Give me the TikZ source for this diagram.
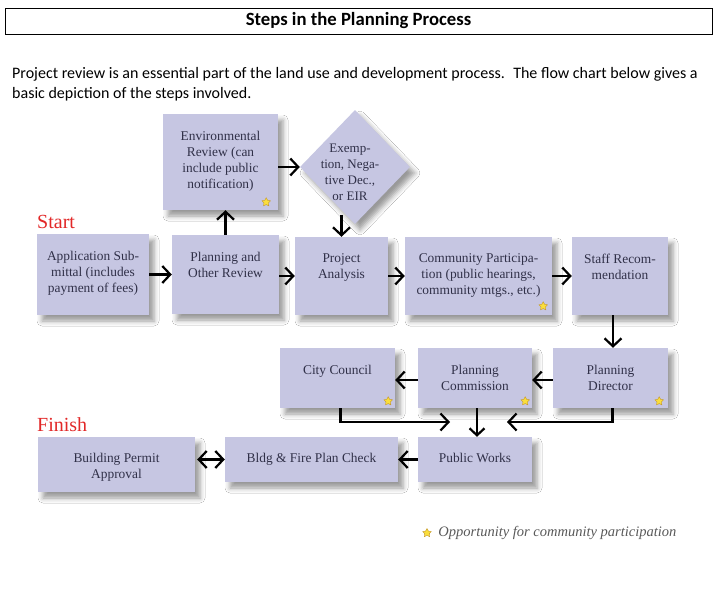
\documentclass[tikz,border=0pt]{standalone}
\usepackage{fontspec}
\setmainfont{Liberation Serif}
\newfontfamily\calibri{Carlito}
\usetikzlibrary{arrows.meta, positioning, calc, shapes.geometric, shadows.blur}
\definecolor{boxfill}{RGB}{198,198,226}
\definecolor{boxtext}{RGB}{48,48,72}
\definecolor{startred}{RGB}{226,40,40}
\definecolor{staryellow}{RGB}{250,222,60}
\definecolor{staredge}{RGB}{196,150,40}

\begin{document}
\begin{tikzpicture}[x=1pt, y=-1pt,
  every node/.style={inner sep=0pt},
  box/.style={fill=boxfill, blur shadow={shadow xshift=5pt, shadow yshift=-6pt, shadow blur radius=5pt, shadow opacity=40}},
  boxlabel/.style={anchor=north, align=center, text=boxtext, font=\fontsize{13.4}{16}\selectfont},
  arr/.style={line width=2.2pt, -{Straight Barb[length=8pt, width=17pt]}},
  thinarr/.style={line width=1.6pt, -{Straight Barb[length=7pt, width=15pt, line width=2.2pt]}},
  cstar/.style={star, star points=5, star point ratio=1.9, fill=staryellow, draw=staredge, line width=0.4pt, minimum size=9pt},
  banner/.style={anchor=west, text=startred, font=\fontsize{20}{22}\selectfont}]
  \fill[white] (0,0) rectangle (718,596);
  \useasboundingbox (0,0) rectangle (718,596);

  % heading and intro
  \node[draw, line width=0.8pt, minimum width=707pt, minimum height=26pt, font=\calibri\bfseries\fontsize{18.7}{20}\selectfont] (title) at (358.5,21) {Steps in the Planning Process};
  \node[anchor=north west, align=left, font=\calibri\fontsize{16}{20}\selectfont] (intro) at (12,67) {Project review is an essential part of the land use and development process.~ The flow chart below gives a\\basic depiction of the steps involved.};

  % top row
  \node[banner] (start) at (37,222) {Start};
  \node[box, minimum width=112pt, minimum height=81pt] (app) at (93,274.5) {};
  \node[box, minimum width=107pt, minimum height=79pt] (plan) at (225.5,274.5) {};
  \node[box, minimum width=115pt, minimum height=96pt] (env) at (220.5,162) {};
  \node[box, diamond, minimum width=110pt, minimum height=114pt] (diam) at (355,167) {};
  \node[box, minimum width=93pt, minimum height=78pt] (proj) at (341.5,276) {};
  \node[box, minimum width=147pt, minimum height=78pt] (comm) at (478.5,276) {};
  \node[box, minimum width=96pt, minimum height=78pt] (staff) at (620,276) {};

  \node[boxlabel] (app-t) at ([yshift=-17pt]app.north) {Application Sub-\\mittal (includes\\payment of fees)};
  \node[boxlabel] (plan-t) at ([yshift=-17pt]plan.north) {Planning and\\Other Review};
  \node[boxlabel] (env-t) at ([yshift=-17pt]env.north) {Environmental\\Review (can\\include public\\notification)};
  \node[boxlabel, anchor=center, font=\fontsize{13}{16}\selectfont] (diam-t) at (350,172) {Exemp-\\tion, Nega-\\tive Dec.,\\or EIR};
  \node[boxlabel] (proj-t) at ([yshift=-17pt]proj.north) {Project\\Analysis};
  \node[boxlabel] (comm-t) at ([yshift=-17pt]comm.north) {Community Participa-\\tion (public hearings,\\community mtgs., etc.)};
  \node[boxlabel] (staff-t) at ([yshift=-17pt]staff.north) {Staff Recom-\\mendation};

  % middle row
  \node[box, minimum width=115pt, minimum height=60pt] (council) at (337.5,378) {};
  \node[box, minimum width=114pt, minimum height=60pt] (commission) at (475,378) {};
  \node[box, minimum width=115pt, minimum height=60pt] (director) at (610.5,378) {};
  \node[boxlabel] (council-t) at ([yshift=-17pt]council.north) {City Council};
  \node[boxlabel] (commission-t) at ([yshift=-17pt]commission.north) {Planning\\Commission};
  \node[boxlabel] (director-t) at ([yshift=-17pt]director.north) {Planning\\Director};

  % bottom row
  \node[banner] (finish) at (37,425) {Finish};
  \node[box, minimum width=157pt, minimum height=55pt] (permit) at (116.5,464.5) {};
  \node[box, minimum width=173pt, minimum height=45pt] (check) at (311.5,459.5) {};
  \node[box, minimum width=114pt, minimum height=45pt] (works) at (475,459.5) {};
  \node[boxlabel] (permit-t) at ([yshift=-16pt]permit.north) {Building Permit\\Approval};
  \node[boxlabel] (check-t) at ([yshift=-16pt]check.north) {Bldg \& Fire Plan Check};
  \node[boxlabel] (works-t) at ([yshift=-16pt]works.north) {Public Works};

  % participation marks
  \node[cstar] (env-s) at ([xshift=-12pt, yshift=8pt]env.south east) {};
  \node[cstar] (comm-s) at ([xshift=-9pt, yshift=9pt]comm.south east) {};
  \node[cstar] (council-s) at ([xshift=-7pt, yshift=7pt]council.south east) {};
  \node[cstar] (commission-s) at ([xshift=-7pt, yshift=7pt]commission.south east) {};
  \node[cstar] (director-s) at ([xshift=-9pt, yshift=7pt]director.south east) {};

  % flow
  \draw[arr] (app) -- (plan);
  \draw[arr] (plan.north) -- (plan.north |- env.south);
  \draw[arr] (env.east |- diam.west) -- (diam.west);
  \draw[arr] ([yshift=9pt]diam.south -| proj.north) -- (proj.north);
  \draw[arr] (plan.east |- proj.east) -- (proj.east -| proj.west);
  \draw[arr] (proj) -- (comm);
  \draw[arr] (comm) -- (staff);
  \draw[arr] ([xshift=-7pt]staff.south) -- ([xshift=-7pt]staff.south |- director.north);
  \draw[arr] ([yshift=-2pt]director.west) -- ([yshift=-2pt]commission.east);
  \draw[arr] ([yshift=-2pt]commission.west) -- ([yshift=-2pt]council.east);
  \coordinate (joinL) at (450,422);
  \coordinate (joinR) at (507,422);
  \draw[arr] ([xshift=3pt]council.south) |- (joinL);
  \draw[arr] ([xshift=2pt]director.south) |- (joinR);
  \draw[thinarr] ([xshift=2pt]commission.south) -- ([xshift=2pt]works.north);
  \draw[arr] (works) -- (check);
  \draw[line width=2.2pt, {Straight Barb[length=8pt, width=17pt]}-{Straight Barb[length=8pt, width=17pt]}] ([xshift=2pt]permit.east |- check.east) -- (check.west);

  % key
  \node[cstar] (key) at (427,533) {};
  \node[right=8pt of key, text=black!65, font=\itshape\fontsize{14.5}{16}\selectfont] (key-t) {Opportunity for community participation};
\end{tikzpicture}
\end{document}
